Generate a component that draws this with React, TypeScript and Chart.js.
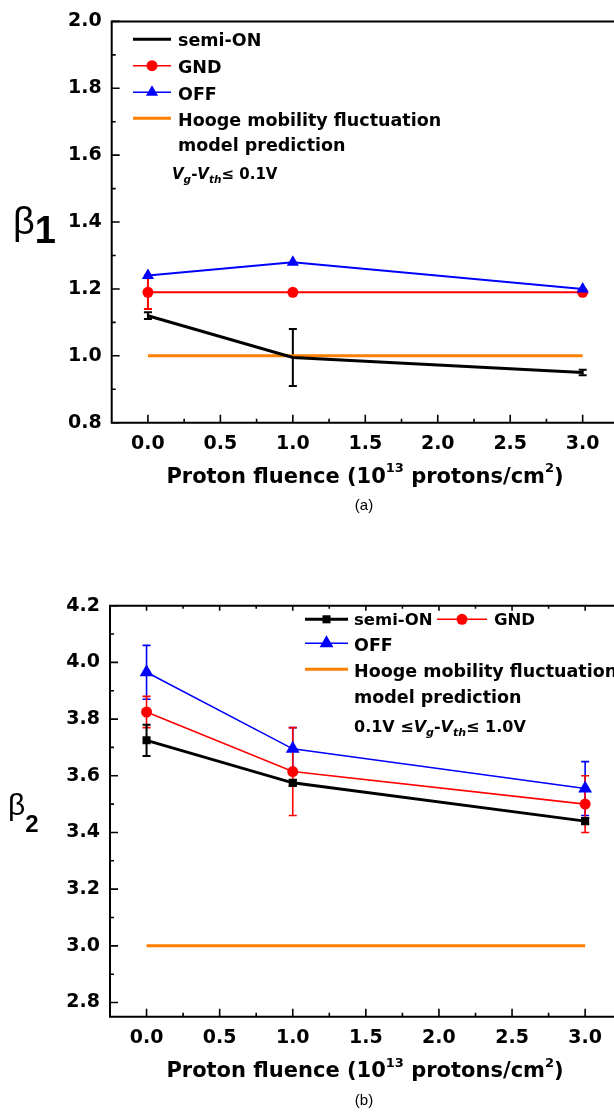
import React, { useEffect, useRef } from 'react';
import { Chart, registerables } from 'chart.js';

Chart.register(...registerables);

// ---------- data ----------
const fluence = [0, 1, 3];
const modelX = [0, 3];

// (a) beta1, Vg-Vth <= 0.1V
const b1SemiOn = [1.12, 0.995, 0.95];
const b1SemiOnErr = [0.01, 0.085, 0.008];
const b1Gnd = [1.19, 1.19, 1.19];
const b1GndErr = [0.05, 0, 0];
const b1Off = [1.24, 1.28, 1.2];
const b1OffErr = [0, 0, 0];
const b1Model = [1.0, 1.0];

// (b) beta2, 0.1V <= Vg-Vth <= 1.0V
const b2SemiOn = [3.725, 3.575, 3.44];
const b2SemiOnErr = [0.055, 0.01, 0.01];
const b2Gnd = [3.825, 3.615, 3.5];
const b2GndErr = [0.055, 0.155, 0.1];
const b2Off = [3.965, 3.695, 3.555];
const b2OffErr = [0.095, 0.075, 0.095];
const b2Model = [3.0, 3.0];

const xTicks = [0, 0.5, 1, 1.5, 2, 2.5, 3];
const y1Ticks = [0.8, 1.0, 1.2, 1.4, 1.6, 1.8, 2.0];
const y2Ticks = [2.8, 3.0, 3.2, 3.4, 3.6, 3.8, 4.0, 4.2];

const seriesNames = ['semi-ON', 'GND', 'OFF', 'Hooge mobility fluctuation'];
const modelNote = 'model prediction';
const xTitleParts = ['Proton fluence (10', '13', ' protons/cm', '2', ')'];
const captions = ['(a)', '(b)'];

const BLACK = '#000000';
const RED = '#FF0000';
const BLUE = '#0000FF';
const ORANGE = '#FF8000';
const TICK_FONT = '"DejaVu Sans"';

// ---------- helpers ----------
const pts = (xs: number[], ys: number[]) => xs.map((x, i) => ({ x, y: ys[i] }));

type Run = { t: string; size: number; bold?: boolean; italic?: boolean; dy?: number; family?: string };

function runFont(r: Run) {
  return `${r.italic ? 'italic ' : ''}${r.bold === false ? '' : 'bold '}${r.size}px ${r.family || TICK_FONT}`;
}

function drawRuns(ctx: CanvasRenderingContext2D, runs: Run[], x: number, baseline: number, align: 'left' | 'center') {
  let w = 0;
  runs.forEach((r) => {
    ctx.font = runFont(r);
    w += ctx.measureText(r.t).width;
  });
  let cx = align === 'center' ? x - w / 2 : x;
  ctx.textBaseline = 'alphabetic';
  ctx.textAlign = 'left';
  ctx.fillStyle = '#000';
  runs.forEach((r) => {
    ctx.font = runFont(r);
    ctx.fillText(r.t, cx, baseline + (r.dy || 0));
    cx += ctx.measureText(r.t).width;
  });
}

function drawMarker(ctx: CanvasRenderingContext2D, style: string, x: number, y: number, r: number, color: string) {
  ctx.fillStyle = color;
  ctx.beginPath();
  if (style === 'circle') {
    ctx.arc(x, y, r, 0, Math.PI * 2);
  } else if (style === 'triangle') {
    const h = r * 1.5;
    const half = (r * 3) / Math.sqrt(3) / 2;
    ctx.moveTo(x, y - h * 2 / 3);
    ctx.lineTo(x + half, y + h / 3);
    ctx.lineTo(x - half, y + h / 3);
    ctx.closePath();
  } else if (style === 'rect') {
    const s = r * Math.SQRT1_2;
    ctx.rect(x - s, y - s, 2 * s, 2 * s);
  }
  ctx.fill();
}

const errorBarPlugin = {
  id: 'errorBars',
  beforeDatasetsDraw(chart: any) {
    const { ctx, scales } = chart;
    const x = scales.x;
    const y = scales.y;
    chart.data.datasets.forEach((ds: any) => {
      if (!ds.errors) return;
      ctx.save();
      ctx.strokeStyle = ds.borderColor;
      ctx.lineWidth = ds.errorWidth || 2;
      ds.data.forEach((p: any, j: number) => {
        const e = ds.errors[j];
        if (!e) return;
        const px = x.getPixelForValue(p.x);
        const top = y.getPixelForValue(p.y + e);
        const bot = y.getPixelForValue(p.y - e);
        const cap = 4;
        ctx.beginPath();
        ctx.moveTo(px, top);
        ctx.lineTo(px, bot);
        ctx.moveTo(px - cap, top);
        ctx.lineTo(px + cap, top);
        ctx.moveTo(px - cap, bot);
        ctx.lineTo(px + cap, bot);
        ctx.stroke();
      });
      ctx.restore();
    });
  },
};

function makeFramePlugin(topTicks: boolean) {
  return {
    id: 'frame',
    afterDraw(chart: any) {
      const { ctx, chartArea: a, scales } = chart;
      const x = scales.x;
      const y = scales.y;
      ctx.save();
      ctx.strokeStyle = '#000';
      ctx.lineWidth = 2;
      ctx.beginPath();
      ctx.moveTo(a.left, a.top);
      ctx.lineTo(chart.width, a.top);
      ctx.moveTo(a.left, a.top - 1);
      ctx.lineTo(a.left, a.bottom + 1);
      ctx.moveTo(a.left - 1, a.bottom);
      ctx.lineTo(chart.width, a.bottom);
      ctx.stroke();

      ctx.lineWidth = 1.6;
      ctx.beginPath();
      // x ticks every 0.25, majors at 0.5
      for (let k = 1; k <= 14; k++) {
        const v = x.min + k * 0.25;
        if (v > x.max + 1e-9) break;
        const major = Math.abs(v * 2 - Math.round(v * 2)) < 1e-6;
        const px = x.getPixelForValue(v);
        const len = major ? 8 : 4;
        ctx.moveTo(px, a.bottom);
        ctx.lineTo(px, a.bottom - len);
        if (topTicks) {
          ctx.moveTo(px, a.top);
          ctx.lineTo(px, a.top + (major ? 5 : 3));
        }
      }
      // y ticks every 0.1, majors at 0.2
      const start = Math.ceil(y.min * 10 - 1e-6);
      const end = Math.floor(y.max * 10 + 1e-6);
      for (let k = start; k <= end; k++) {
        const v = k / 10;
        const major = k % 2 === 0;
        const py = y.getPixelForValue(v);
        ctx.moveTo(a.left, py);
        ctx.lineTo(a.left + (major ? 8 : 4), py);
      }
      ctx.stroke();
      ctx.restore();
    },
  };
}

type LegendRow = { label: string; x0: number; x1: number; lineY: number; textX: number; baseline: number; size: number };

function makeTextPlugin(
  legendRows: LegendRow[],
  extraText: { runs: Run[]; x: number; baseline: number; align: 'left' | 'center' }[]
) {
  return {
    id: 'texts',
    afterDraw(chart: any) {
      const ctx: CanvasRenderingContext2D = chart.ctx;
      ctx.save();
      legendRows.forEach((row) => {
        const ds = chart.data.datasets.find((d: any) => d.label === row.label);
        if (!ds) return;
        ctx.strokeStyle = ds.borderColor;
        ctx.lineWidth = ds.legendLineWidth || ds.borderWidth;
        ctx.beginPath();
        ctx.moveTo(row.x0, row.lineY);
        ctx.lineTo(row.x1, row.lineY);
        ctx.stroke();
        if (ds.pointRadius > 0) {
          drawMarker(ctx, ds.pointStyle, (row.x0 + row.x1) / 2, row.lineY, ds.pointRadius, ds.borderColor);
        }
        drawRuns(ctx, [{ t: row.label, size: row.size }], row.textX, row.baseline, 'left');
      });
      extraText.forEach((e) => drawRuns(ctx, e.runs, e.x, e.baseline, e.align));
      ctx.restore();
    },
  };
}

function titleRuns(): Run[] {
  return [
    { t: xTitleParts[0], size: 21 },
    { t: xTitleParts[1], size: 13, dy: -10.5 },
    { t: xTitleParts[2], size: 21 },
    { t: xTitleParts[3], size: 13, dy: -10.5 },
    { t: xTitleParts[4], size: 21 },
  ];
}

function baseDatasets(
  semi: number[], semiErr: number[], gnd: number[], gndErr: number[], off: number[], offErr: number[], model: number[],
  big: boolean
) {
  return [
    {
      label: seriesNames[2], data: pts(fluence, off), errors: offErr,
      borderColor: BLUE, backgroundColor: BLUE, pointBackgroundColor: BLUE, pointBorderColor: BLUE,
      borderWidth: big ? 1.6 : 2, legendLineWidth: 1.5, errorWidth: 1.6,
      pointStyle: 'triangle', pointRadius: big ? 8 : 7, pointBorderWidth: 0, tension: 0, fill: false,
    },
    {
      label: seriesNames[1], data: pts(fluence, gnd), errors: gndErr,
      borderColor: RED, backgroundColor: RED, pointBackgroundColor: RED, pointBorderColor: RED,
      borderWidth: big ? 1.6 : 2, legendLineWidth: 1.5, errorWidth: big ? 1.6 : 2,
      pointStyle: 'circle', pointRadius: 5.5, pointBorderWidth: 0, tension: 0, fill: false,
    },
    {
      label: seriesNames[0], data: pts(fluence, semi), errors: semiErr,
      borderColor: BLACK, backgroundColor: BLACK, pointBackgroundColor: BLACK, pointBorderColor: BLACK,
      borderWidth: 3, legendLineWidth: 3, errorWidth: 2,
      pointStyle: 'rect', pointRadius: big ? 5.7 : 0, pointBorderWidth: 0, tension: 0, fill: false,
    },
    {
      label: seriesNames[3], data: pts(modelX, model),
      borderColor: ORANGE, backgroundColor: ORANGE,
      borderWidth: 3, legendLineWidth: 3, pointRadius: 0, tension: 0, fill: false,
    },
  ];
}

function makeOptions(ymin: number, ymax: number, yTicks: number[], top: number, leftW: number, rightPad: number, bottomH: number) {
  const font = { family: TICK_FONT, weight: 'bold' as const, size: 19 };
  return {
    animation: false as const,
    responsive: false,
    events: [],
    layout: { padding: { top, right: rightPad, left: 0, bottom: 0 } },
    plugins: { legend: { display: false }, tooltip: { enabled: false } },
    scales: {
      x: {
        type: 'linear' as const, min: -0.25, max: 3.25,
        grid: { display: false, drawTicks: false }, border: { display: false },
        ticks: { padding: 10, font, color: '#000', autoSkip: false, maxRotation: 0, callback: (v: any) => Number(v).toFixed(1) },
        afterBuildTicks: (s: any) => { s.ticks = xTicks.map((v) => ({ value: v })); },
        afterFit: (s: any) => { s.height = bottomH; },
      },
      y: {
        type: 'linear' as const, min: ymin, max: ymax,
        grid: { display: false, drawTicks: false }, border: { display: false },
        ticks: { padding: 10, font, color: '#000', autoSkip: false, callback: (v: any) => Number(v).toFixed(1) },
        afterBuildTicks: (s: any) => { s.ticks = yTicks.map((v) => ({ value: v })); },
        afterFit: (s: any) => { s.width = leftW; },
      },
    },
  };
}

const CW = 640;
const HA = 545;
const HB = 552;

export default function App() {
  const refA = useRef<HTMLCanvasElement>(null);
  const refB = useRef<HTMLCanvasElement>(null);

  useEffect(() => {
    const legendA: LegendRow[] = [
      { label: seriesNames[0], x0: 133, x1: 171, lineY: 39.3, textX: 178, baseline: 45.5, size: 17.5 },
      { label: seriesNames[1], x0: 133, x1: 171, lineY: 65.7, textX: 178, baseline: 72.5, size: 17.5 },
      { label: seriesNames[2], x0: 133, x1: 171, lineY: 92.3, textX: 178, baseline: 99.5, size: 17.5 },
      { label: seriesNames[3], x0: 133, x1: 171, lineY: 118.3, textX: 178, baseline: 126, size: 17.5 },
    ];
    const extraA = [
      { runs: [{ t: modelNote, size: 17.5 }], x: 178, baseline: 151, align: 'left' as const },
      {
        runs: [
          { t: 'V', size: 15, italic: true },
          { t: 'g', size: 10.5, italic: true, dy: 4 },
          { t: '-', size: 15 },
          { t: 'V', size: 15, italic: true },
          { t: 'th', size: 10.5, italic: true, dy: 4 },
          { t: '≤ 0.1V', size: 15 },
        ],
        x: 172, baseline: 179, align: 'left' as const,
      },
      { runs: titleRuns(), x: 365, baseline: 482.7, align: 'center' as const },
      { runs: [{ t: captions[0], size: 15, bold: false, family: '"Liberation Sans"' }], x: 364, baseline: 510, align: 'center' as const },
      {
        runs: [
          { t: 'β', size: 38, bold: false, family: '"Liberation Sans"' },
          { t: '1', size: 38, family: '"Liberation Sans"', dy: 9 },
        ],
        x: 13, baseline: 234, align: 'left' as const,
      },
    ];

    const legendB: LegendRow[] = [
      { label: seriesNames[0], x0: 305, x1: 348, lineY: 59.3, textX: 354, baseline: 65, size: 16.5 },
      { label: seriesNames[1], x0: 437, x1: 487, lineY: 59.3, textX: 494, baseline: 65, size: 16.5 },
      { label: seriesNames[2], x0: 305, x1: 348, lineY: 83.3, textX: 354, baseline: 90.7, size: 17.5 },
      { label: seriesNames[3], x0: 305, x1: 348, lineY: 109.3, textX: 354, baseline: 117.3, size: 17.5 },
    ];
    const extraB = [
      { runs: [{ t: modelNote, size: 17.5 }], x: 354, baseline: 142.5, align: 'left' as const },
      {
        runs: [
          { t: '0.1V ≤', size: 16 },
          { t: 'V', size: 16, italic: true },
          { t: 'g', size: 11, italic: true, dy: 4 },
          { t: '-', size: 16 },
          { t: 'V', size: 16, italic: true },
          { t: 'th', size: 11, italic: true, dy: 4 },
          { t: '≤ 1.0V', size: 16 },
        ],
        x: 354, baseline: 171.7, align: 'left' as const,
      },
      { runs: titleRuns(), x: 365, baseline: 517.3, align: 'center' as const },
      { runs: [{ t: captions[1], size: 15, bold: false, family: '"Liberation Sans"' }], x: 364, baseline: 545, align: 'center' as const },
      {
        runs: [
          { t: 'β', size: 30, bold: false, family: '"Liberation Sans"' },
          { t: '2', size: 24, family: '"Liberation Sans"', dy: 17 },
        ],
        x: 8, baseline: 255, align: 'left' as const,
      },
    ];

    const chartA = new Chart(refA.current!, {
      type: 'line',
      data: { datasets: baseDatasets(b1SemiOn, b1SemiOnErr, b1Gnd, b1GndErr, b1Off, b1OffErr, b1Model, false) as any },
      options: makeOptions(0.8, 2.0, y1Ticks, 15, 111.7, CW - 618.9, HA - 422.7) as any,
      plugins: [errorBarPlugin, makeFramePlugin(false), makeTextPlugin(legendA, extraA)],
    });
    const chartB = new Chart(refB.current!, {
      type: 'line',
      data: { datasets: baseDatasets(b2SemiOn, b2SemiOnErr, b2Gnd, b2GndErr, b2Off, b2OffErr, b2Model, true) as any },
      options: makeOptions(2.75, 4.2, y2Ticks, 45.7, 110, CW - 621.7, HB - 456.7) as any,
      plugins: [errorBarPlugin, makeFramePlugin(true), makeTextPlugin(legendB, extraB)],
    });
    return () => {
      chartA.destroy();
      chartB.destroy();
    };
  }, []);

  return (
    <div style={{ position: 'absolute', left: 0, top: 0, width: 614, height: 1112, overflow: 'hidden', background: '#fff' }}>
      <canvas ref={refA} width={CW} height={HA} style={{ position: 'absolute', left: 0, top: 0 }} />
      <canvas ref={refB} width={CW} height={HB} style={{ position: 'absolute', left: 0, top: 560 }} />
    </div>
  );
}
